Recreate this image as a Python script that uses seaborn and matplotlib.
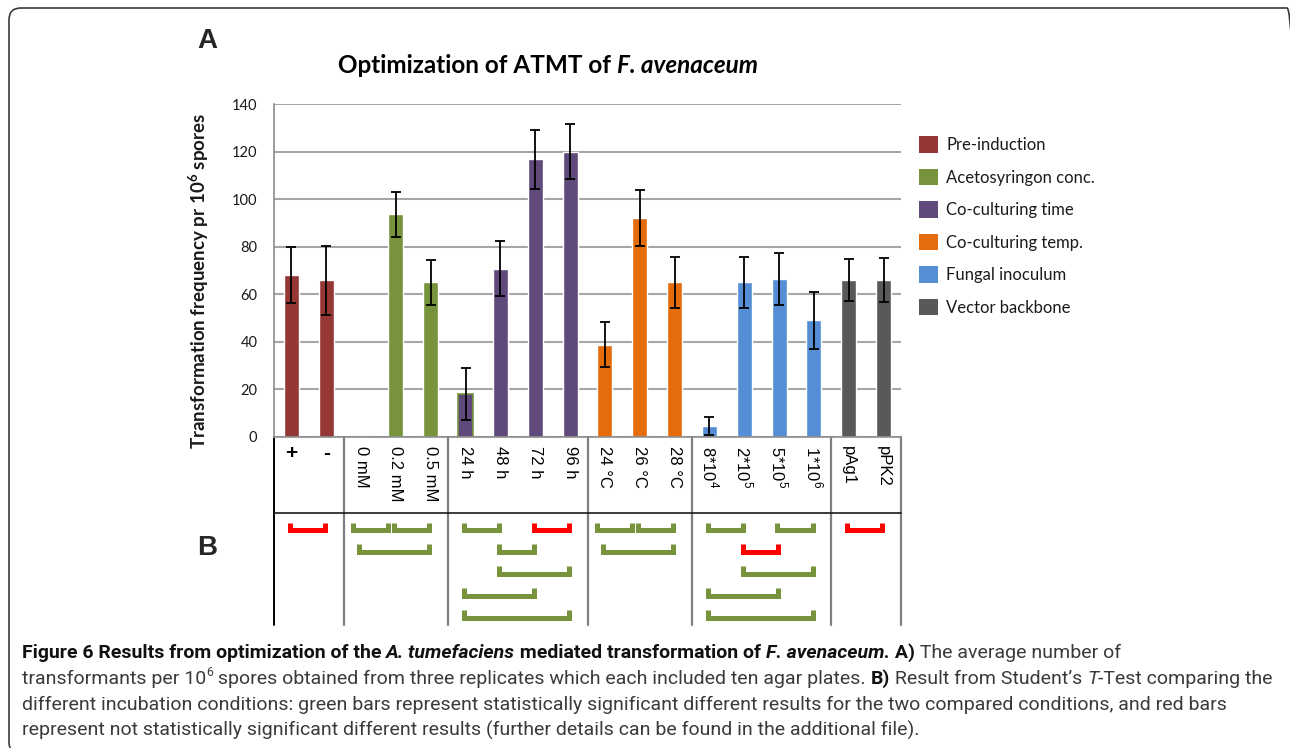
import numpy as np
import pandas as pd
import seaborn as sns
import matplotlib
matplotlib.use("Agg")
import matplotlib.pyplot as plt
from matplotlib.patches import Patch, FancyBboxPatch
from matplotlib.font_manager import FontProperties

# ---------------- data ----------------
labels = ['+', '-', '0 mM', '0.2 mM', '0.5 mM', '24 h', '48 h', '72 h', '96 h',
          '24 °C', '26 °C', '28 °C', '8*10$^\\mathregular{4}$', '2*10$^\\mathregular{5}$',
          '5*10$^\\mathregular{5}$', '1*10$^\\mathregular{6}$', 'pAg1', 'pPK2']
groups = (['Pre-induction'] * 2 + ['Acetosyringon conc.'] * 3 + ['Co-culturing time'] * 4
          + ['Co-culturing temp.'] * 3 + ['Fungal inoculum'] * 4 + ['Vector backbone'] * 2)
values = [68, 66, 0, 93.6, 65, 18, 70.7, 116.8, 120, 38.8, 92, 65, 4.6, 65, 66.6, 49, 66, 66]
errors = [11.8, 14.5, 0, 9.5, 9.4, 11, 11.5, 12.4, 11.5, 9.4, 11.9, 10.7, 3.8, 10.7, 10.9, 12.1, 8.9, 9.4]

group_names = ['Pre-induction', 'Acetosyringon conc.', 'Co-culturing time',
               'Co-culturing temp.', 'Fungal inoculum', 'Vector backbone']
group_colors = ['#953735', '#77933C', '#604A7B', '#E46C0A', '#558ED5', '#595959']

# Student's T-test comparisons: (row, condition a, condition b, significant)
comparisons = [
    (1, '+', '-', False), (1, '0 mM', '0.2 mM', True), (1, '0.2 mM', '0.5 mM', True),
    (1, '24 h', '48 h', True), (1, '72 h', '96 h', False),
    (1, '24 °C', '26 °C', True), (1, '26 °C', '28 °C', True),
    (1, labels[12], labels[13], True), (1, labels[14], labels[15], True), (1, 'pAg1', 'pPK2', False),
    (2, '0 mM', '0.5 mM', True), (2, '48 h', '72 h', True), (2, '24 °C', '28 °C', True),
    (2, labels[13], labels[14], False),
    (3, '48 h', '96 h', True), (3, labels[13], labels[15], True),
    (4, '24 h', '72 h', True), (4, labels[12], labels[14], True),
    (5, '24 h', '96 h', True), (5, labels[12], labels[15], True),
]

title_runs = [("Optimization of ATMT of ", "bold", "normal"), ("F. avenaceum", "bold", "italic")]
caption_lines = [
    [("Figure 6 Results from optimization of the ", "bold", "normal"),
     ("A. tumefaciens", "bold", "italic"),
     (" mediated transformation of ", "bold", "normal"),
     ("F. avenaceum.", "bold", "italic"),
     (" A)", "bold", "normal"),
     (" The average number of", "normal", "normal")],
    [("transformants per 10", "normal", "normal"),
     ("6", "sup", "normal"),
     (" spores obtained from three replicates which each included ten agar plates. ", "normal", "normal"),
     ("B)", "bold", "normal"),
     (" Result from Student\u2019s ", "normal", "normal"),
     ("T", "normal", "italic"),
     ("-Test comparing the", "normal", "normal")],
    [("different incubation conditions: green bars represent statistically significant different "
      "results for the two compared conditions, and red bars", "normal", "normal")],
    [("represent not statistically significant different results (further details can be found "
      "in the additional file).", "normal", "normal")],
]

# ---------------- figure ----------------
sns.set_style("white")
plt.rcParams['font.family'] = ['Lato', 'DejaVu Sans']
W, H = 1290, 748
fig = plt.figure(figsize=(W / 100, H / 100), dpi=100)
renderer = fig.canvas.get_renderer()

ax_l, ax_r, ax_t, ax_b = 274, 901, 104, 437
ax = fig.add_axes([ax_l / W, 1 - ax_b / H, (ax_r - ax_l) / W, (ax_b - ax_t) / H])

df = pd.DataFrame({'label': labels, 'group': groups, 'value': values})
palette = dict(zip(group_names, group_colors))
sns.barplot(data=df, x='label', y='value', hue='group', order=labels, hue_order=group_names,
            palette=palette, dodge=False, width=0.43, saturation=1, legend=False, ax=ax)

xpos = np.arange(len(labels))
vals = np.array(values, float)
errs = np.array(errors, float)
m = errs > 0
ax.errorbar(xpos[m], vals[m], yerr=errs[m], fmt='none', ecolor='black',
            elinewidth=1.3, capsize=3.3, capthick=1.3, zorder=5)

# 24 h bar has a green outline in the original
for p in ax.patches:
    cx = p.get_x() + p.get_width() / 2
    if abs(cx - labels.index('24 h')) < 0.1 and p.get_height() > 0:
        p.set_edgecolor(group_colors[1])
        p.set_linewidth(1.2)

ax.set_ylim(0, 140)
ax.set_xlim(-0.5, len(labels) - 0.5)
ax.set_yticks(np.arange(0, 141, 20))
ax.yaxis.grid(True, color='#A6A6A6', linewidth=1.5)
ax.xaxis.grid(False)
ax.set_axisbelow(True)
for s in ['top', 'right']:
    ax.spines[s].set_visible(False)
ax.spines['left'].set_color('#8C8C8C')
ax.spines['left'].set_linewidth(1.2)
ax.spines['bottom'].set_color('#8C8C8C')
ax.spines['bottom'].set_linewidth(1.2)
ax.tick_params(axis='y', length=0, pad=12, labelsize=10.5, labelcolor='#1a1a1a')
ax.tick_params(axis='x', length=0, labelbottom=False)
ax.set_xlabel('')
ax.set_ylabel('Transformation frequency pr 10$^\\mathregular{6}$ spores', fontsize=13.5,
              fontweight='bold', color='#1a1a1a')
ax.yaxis.set_label_coords((211 - ax_l) / (ax_r - ax_l), (ax_b - 281) / (ax_b - ax_t))

axh = ax_b - ax_t
def ay(ypx):
    return (ax_b - ypx) / axh

xt = ax.get_xaxis_transform()
# category labels
for i, lab in enumerate(labels):
    if lab in ('+', '-'):
        ax.text(i, ay(444), lab, transform=xt, ha='center', va='top', fontsize=15,
                fontweight='bold', family=['Liberation Sans'], color='black')
    else:
        ax.text(i, ay(446), lab, transform=xt, ha='center', va='top', rotation=270,
                fontsize=12, family=['Liberation Sans', 'DejaVu Sans'], color='black')

# table lines
bottom_y = ay(625)
sep = [-0.5] + [i - 0.5 for i in range(1, len(groups)) if groups[i] != groups[i - 1]] + [len(labels) - 0.5]
for k, xs in enumerate(sep):
    ax.plot([xs, xs], [0, bottom_y], transform=xt, clip_on=False,
            color='black' if k == 0 else '#7F7F7F', lw=1.4 if k == 0 else 1.6)
ax.plot([-0.5, len(labels) - 0.5], [ay(513), ay(513)], transform=xt, clip_on=False,
        color='#1a1a1a', lw=1.2)

# brackets
starts = {(r, a) for r, a, b, s in comparisons}
for r, a, b, sig in comparisons:
    i, j = labels.index(a), labels.index(b)
    shift = -0.19 if (r, b) in starts else 0.0
    x0, x1 = i - 0.05 + shift, j - 0.04 + shift
    yb = ay(530 + 21.9 * (r - 1))
    yt = yb + 7.5 / axh
    ax.plot([x0, x0, x1, x1], [yt, yb, yb, yt], transform=xt, clip_on=False,
            color='#77933C' if sig else '#FF0000', lw=3.6,
            solid_joinstyle='miter', solid_capstyle='butt')

# legend
handles = [Patch(facecolor=c, edgecolor='none', label=g) for g, c in zip(group_names, group_colors)]
ax.legend(handles=handles, loc='upper left', bbox_to_anchor=(919 / W, 1 - 136 / H),
          bbox_transform=fig.transFigure, frameon=False, fontsize=12,
          handlelength=1.15, handleheight=1.15, handletextpad=0.5, labelspacing=0.94,
          borderpad=0, borderaxespad=0, labelcolor='#1a1a1a')

# ---------------- text helpers ----------------
def fp_for(weight, style, size, family):
    return FontProperties(family=family, weight='bold' if weight == 'bold' else 'normal',
                          style=style, size=size)

def width_of(s, fp):
    w1, _, _ = renderer.get_text_width_height_descent(s + '|', fp, ismath=False)
    w2, _, _ = renderer.get_text_width_height_descent('|', fp, ismath=False)
    return w1 - w2

def run_width(runs, size, family):
    tot = 0
    for s, wt, st in runs:
        sz = size * 0.62 if wt == 'sup' else size
        tot += width_of(s, fp_for(wt, st, sz, family))
    return tot

def draw_runs(runs, x, y, size, family, color, bold_color=None):
    for s, wt, st in runs:
        sz = size * 0.62 if wt == 'sup' else size
        dy = size * 0.55 if wt == 'sup' else 0
        fp = fp_for(wt, st, sz, family)
        c = bold_color if (bold_color and wt == 'bold') else color
        fig.text(x / W, 1 - (y - dy) / H, s, fontproperties=fp, color=c,
                 ha='left', va='baseline')
        x += width_of(s, fp)

# title (fitted to the original's width)
tw10 = run_width(title_runs, 10, 'Lato')
tsize = 10 * 420 / tw10
tw = run_width(title_runs, tsize, 'Lato')
draw_runs(title_runs, 548 - tw / 2, 73, tsize, 'Lato', 'black')

# panel letters
fig.text(197 / W, 1 - 48 / H, 'A', fontsize=20, fontweight='bold', family='Liberation Sans',
         ha='left', va='baseline')
fig.text(197 / W, 1 - 555 / H, 'B', fontsize=20, fontweight='bold', family='Liberation Sans',
         ha='left', va='baseline')

# caption (size fitted to the third line's width)
cfam = 'Roboto'
w10 = run_width(caption_lines[2], 10, cfam)
csize = 10 * 1201 / w10
for k, line in enumerate(caption_lines):
    draw_runs(line, 22, 658 + 26 * k, csize, cfam, '#3a3a3a', bold_color='#111111')

# rounded frame (right and bottom edges run off the canvas)
frame = FancyBboxPatch((9, -6), 1290, 746, boxstyle='round,pad=0,rounding_size=12',
                       transform=None, facecolor='none', edgecolor='#3a3a3a', linewidth=1.2)
fig.add_artist(frame)

fig.savefig('out.png', dpi=100)
